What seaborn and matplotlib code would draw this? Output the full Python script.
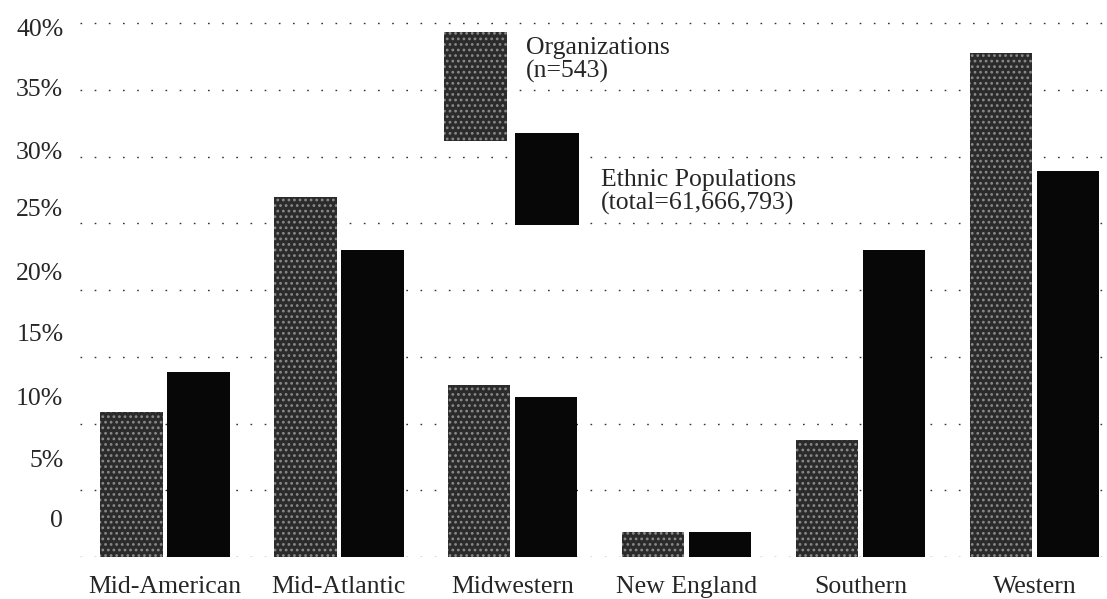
import matplotlib
matplotlib.use("Agg")
import matplotlib.pyplot as plt
from matplotlib.patches import Rectangle
import seaborn as sns
import pandas as pd

# values (percent)
regions = ["Mid-American", "Mid-Atlantic", "Midwestern", "New England", "Southern", "Western"]
organizations = [10.9, 27.0, 12.9, 1.9, 8.8, 37.8]
ethnic_pops = [13.9, 23.0, 12.0, 1.9, 23.0, 28.9]
series_names = ["Organizations\n(n=543)", "Ethnic Populations\n(total=61,666,793)"]
tick_labels = ["0", "5%", "10%", "15%", "20%", "25%", "30%", "35%", "40%"]

df = pd.DataFrame({
    "region": regions * 2,
    "share": organizations + ethnic_pops,
    "series": [series_names[0]] * len(regions) + [series_names[1]] * len(regions),
})

sns.set_style("white")
plt.rcParams["font.family"] = ["Liberation Serif", "DejaVu Serif"]
plt.rcParams["hatch.linewidth"] = 1.2

org_col = "#2b2b2b"
eth_col = "#070707"
fs = 18.5

fig = plt.figure(figsize=(11.07, 5.99), dpi=100)
ax = fig.add_axes([80 / 1107, 42 / 599, 1027 / 1107, 557 / 599])

# dotted reference lines at every 5% (sparse, like the scan)
for v in range(0, 45, 5):
    ax.axhline(v, color="#333333", lw=1.0, ls=(0, (1.2, 9)), zorder=0)

sns.barplot(data=df, x="region", y="share", hue="series",
            palette=[org_col, eth_col], width=0.77, gap=0.07,
            legend=False, ax=ax, zorder=2)

# speckled look for the organization bars
n = len(regions)
for i, p in enumerate(ax.patches[:2 * n]):
    p.set_linewidth(0)
    if i < n:
        p.set_edgecolor("#8a8a8a")
        p.set_hatch("...")

ax.set_xlim(-0.489, 5.417)
ax.set_ylim(0, 41.75)
# labels sit where the scan prints them (slightly off the grid)
ax.set_yticks([2.9, 7.4, 12.0, 16.8, 21.4, 26.2, 30.5, 35.2, 39.7])
ax.set_yticklabels(tick_labels)
ax.set_xlabel("")
ax.set_ylabel("")
ax.tick_params(axis="both", length=0, labelsize=fs)
ax.tick_params(axis="y", pad=12)
ax.tick_params(axis="x", pad=14)
sns.despine(ax=ax, left=True, bottom=True)

# staggered legend blocks
fig.add_artist(Rectangle((444 / 1107, 1 - 141 / 599), 63 / 1107, 109 / 599,
                         transform=fig.transFigure, facecolor=org_col,
                         edgecolor="#8a8a8a", lw=0, hatch="..."))
fig.add_artist(Rectangle((515 / 1107, 1 - 225 / 599), 64 / 1107, 92 / 599,
                         transform=fig.transFigure, facecolor=eth_col, lw=0))
fig.text(526 / 1107, 1 - 60 / 599, series_names[0], fontsize=fs,
         va="center", ha="left", linespacing=1.1)
fig.text(601 / 1107, 1 - 192 / 599, series_names[1], fontsize=fs,
         va="center", ha="left", linespacing=1.1)

fig.savefig("out.png", dpi=100)
